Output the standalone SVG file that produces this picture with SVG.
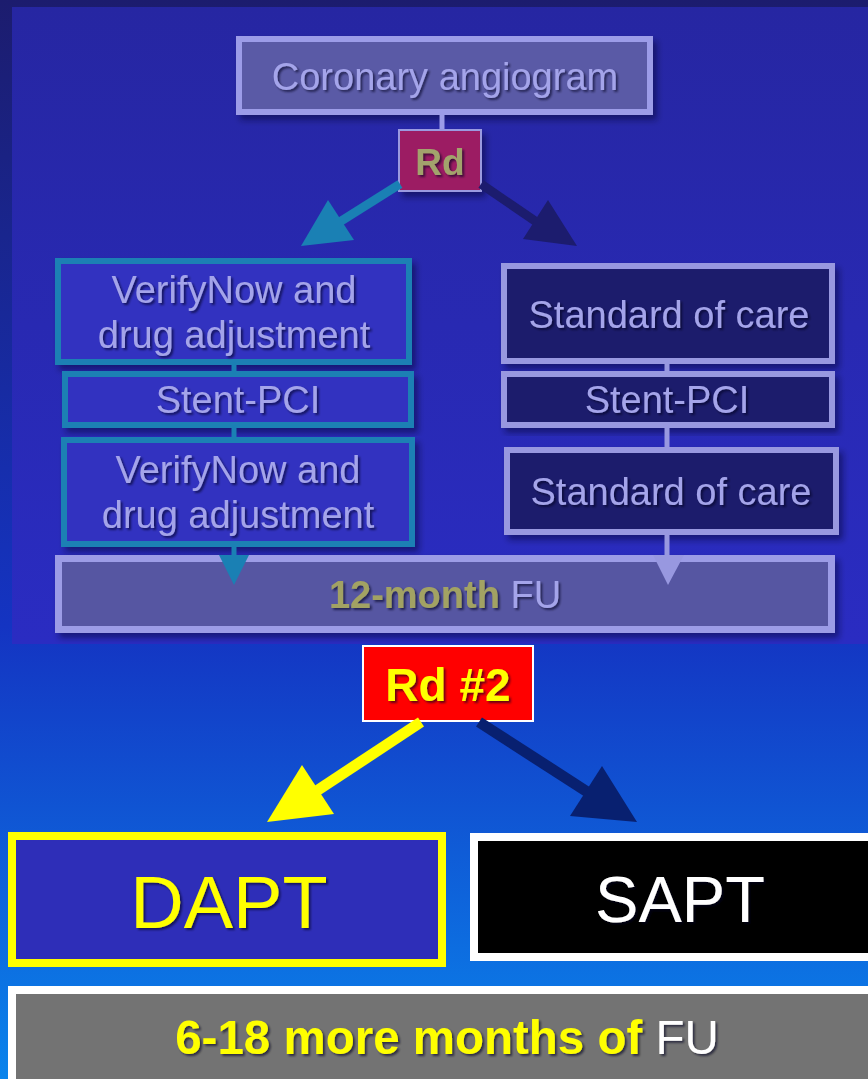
<svg xmlns="http://www.w3.org/2000/svg" width="868" height="1079" viewBox="0 0 868 1079">
<defs>
<linearGradient id="bg" x1="0" y1="0" x2="0" y2="1">
<stop offset="0" stop-color="#1c1c6e"/>
<stop offset="0.58" stop-color="#1434c2"/>
<stop offset="1" stop-color="#0a84ec"/>
</linearGradient>
<linearGradient id="panel" x1="0" y1="0" x2="0" y2="1">
<stop offset="0" stop-color="#2626a2"/>
<stop offset="1" stop-color="#2a2cc2"/>
</linearGradient>
<filter id="bs" x="-10%" y="-10%" width="125%" height="130%">
<feDropShadow dx="4" dy="5" stdDeviation="3" flood-color="#000028" flood-opacity="0.45"/>
</filter>
<filter id="ts" x="-10%" y="-20%" width="125%" height="150%">
<feDropShadow dx="2" dy="2" stdDeviation="1" flood-color="#000020" flood-opacity="0.6"/>
</filter>
</defs>
<style>
text{font-family:"Liberation Sans",Arial,sans-serif;text-anchor:middle;filter:url(#ts)}
.lav{fill:#a4a4ea}
.t37{font-size:38px}
.teal{fill:#3030c0;stroke:#1a80b4;stroke-width:6}
.navy{fill:#1c1c6c;stroke:#9898e0;stroke-width:6}
.b{font-weight:bold}
</style>
<rect x="0" y="0" width="868" height="1079" fill="url(#bg)"/>
<rect x="12" y="7" width="856" height="637" fill="url(#panel)"/>

<g id="coronary">
<rect x="239" y="39" width="411" height="73" fill="#5a5aa6" stroke="#9c9ce8" stroke-width="6" filter="url(#bs)"/>
<text x="445" y="90" class="lav" style="font-size:38px">Coronary angiogram</text>
</g>
<g id="rd1">
<rect x="399" y="130" width="82" height="61" fill="#9c1a64" stroke="#9a9ae0" stroke-width="2" filter="url(#bs)"/>
<text x="440" y="175" class="b" style="font-size:37px;fill:#a2a26c">Rd</text>
</g>
<g id="verify1">
<rect x="58" y="261" width="351" height="101" class="teal" filter="url(#bs)"/>
<text x="234" y="303" class="lav t37">VerifyNow and</text>
<text x="234" y="348" class="lav t37">drug adjustment</text>
</g>
<g id="stent-left">
<rect x="65" y="374" width="346" height="51" class="teal" filter="url(#bs)"/>
<text x="238" y="413" class="lav t37">Stent-PCI</text>
</g>
<g id="verify2">
<rect x="64" y="440" width="348" height="104" class="teal" filter="url(#bs)"/>
<text x="238" y="483" class="lav t37">VerifyNow and</text>
<text x="238" y="528" class="lav t37">drug adjustment</text>
</g>
<g id="soc1">
<rect x="504" y="266" width="328" height="95" class="navy" filter="url(#bs)"/>
<text x="669" y="328" class="lav t37">Standard of care</text>
</g>
<g id="stent-right">
<rect x="504" y="374" width="328" height="51" class="navy" filter="url(#bs)"/>
<text x="667" y="413" class="lav t37">Stent-PCI</text>
</g>
<g id="soc2">
<rect x="507" y="450" width="329" height="82" class="navy" filter="url(#bs)"/>
<text x="671" y="505" class="lav t37">Standard of care</text>
</g>
<g id="fu12">
<rect x="58.5" y="558.5" width="773" height="71" fill="#5656a2" stroke="#9c9ce6" stroke-width="7" filter="url(#bs)"/>
<text x="445" y="608" class="t37"><tspan class="b" fill="#a2a264">12-month</tspan><tspan class="lav"> FU</tspan></text>
</g>
<g id="rd2">
<rect x="363" y="646" width="170" height="75" fill="#ff0000" stroke="#ffffff" stroke-width="2"/>
<text x="448" y="701" class="b" style="font-size:46px;fill:#ffff00">Rd #2</text>
</g>
<g id="dapt">
<rect x="12" y="836" width="430" height="127" fill="#2e2eb8" stroke="#ffff00" stroke-width="8"/>
<text x="229" y="928" style="font-size:74px;fill:#ffff00">DAPT</text>
</g>
<g id="sapt">
<rect x="474" y="837" width="404" height="120" fill="#000000" stroke="#ffffff" stroke-width="8"/>
<text x="680" y="922" style="font-size:65px;fill:#ffffff">SAPT</text>
</g>
<g id="fu-more">
<rect x="12" y="990" width="866" height="94" fill="#737373" stroke="#ffffff" stroke-width="8"/>
<text x="447" y="1054" style="font-size:47.5px"><tspan class="b" fill="#ffff00">6-18 more months of</tspan><tspan fill="#ffffff"> FU</tspan></text>
</g>

<g id="connectors">
<line x1="442" y1="115" x2="442" y2="129" stroke="#9c9ce8" stroke-width="5"/>
<line x1="400" y1="184" x2="338" y2="223" stroke="#1a80b4" stroke-width="9"/>
<polygon points="301,246 328,200 354,240" fill="#1a80b4"/>
<line x1="481" y1="184" x2="538" y2="223" stroke="#1c1c6e" stroke-width="9"/>
<polygon points="577,246 548,200 523,239" fill="#1c1c6e"/>
<line x1="234" y1="362" x2="234" y2="374" stroke="#1a80b4" stroke-width="5"/>
<line x1="234" y1="425" x2="234" y2="440" stroke="#1a80b4" stroke-width="5"/>
<line x1="234" y1="544" x2="234" y2="558" stroke="#1a80b4" stroke-width="5"/>
<polygon points="219,555 249,555 234,585" fill="#1a80b4"/>
<line x1="667" y1="361" x2="667" y2="374" stroke="#9898e0" stroke-width="5"/>
<line x1="667" y1="425" x2="667" y2="450" stroke="#9898e0" stroke-width="5"/>
<line x1="667" y1="532" x2="667" y2="558" stroke="#9898e0" stroke-width="5"/>
<polygon points="653,555 684,555 668,585" fill="#9898e0"/>
<line x1="421" y1="722" x2="315" y2="792" stroke="#ffff00" stroke-width="11"/>
<polygon points="267,822 302,765 334,814" fill="#ffff00"/>
<line x1="479" y1="722" x2="589" y2="793" stroke="#082070" stroke-width="11"/>
<polygon points="637,822 602,766 570,816" fill="#082070"/>
</g>
</svg>
